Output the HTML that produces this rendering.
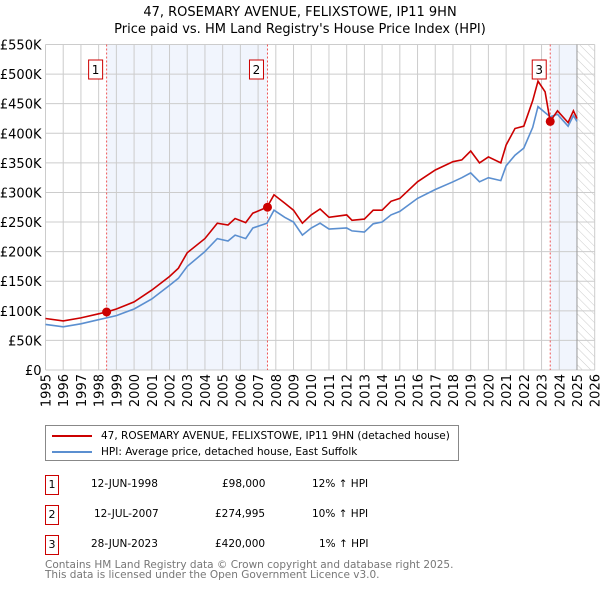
<!DOCTYPE html>
<html><head><meta charset="utf-8"><style>
body{margin:0;background:#fff;font-family:"DejaVu Sans","Liberation Sans",sans-serif;}
#wrap{position:relative;width:600px;height:590px;overflow:hidden}
svg text{font-family:"DejaVu Sans","Liberation Sans",sans-serif}
.t{position:absolute;font-size:10.5px;color:#000;white-space:nowrap;line-height:14px}
.box{position:absolute;border:1px solid #c00;width:14px;height:20px;font-size:11px;text-align:center;line-height:18px;box-sizing:border-box}
</style></head><body><div id="wrap">
<svg id="chart" width="600" height="420" style="position:absolute;left:0;top:0">
<defs><pattern id="hatch" width="6" height="6" patternUnits="userSpaceOnUse" patternTransform="rotate(-45)"><line x1="0" y1="0" x2="0" y2="6" stroke="#ccc" stroke-width="1"/></pattern></defs>
<text x="300" y="16" text-anchor="middle" font-size="13">47, ROSEMARY AVENUE, FELIXSTOWE, IP11 9HN</text>
<text x="300" y="33" text-anchor="middle" font-size="13">Price paid vs. HM Land Registry's House Price Index (HPI)</text>
<g id="g"></g>
</svg>
<div style="position:absolute;left:45px;top:425px;width:414px;height:36px;border:1px solid #888;box-sizing:border-box">
<div style="position:absolute;left:6px;top:9px;width:40px;height:2px;background:#c00"></div>
<div class="t" style="left:55px;top:3px">47, ROSEMARY AVENUE, FELIXSTOWE, IP11 9HN (detached house)</div>
<div style="position:absolute;left:6px;top:25px;width:40px;height:2px;background:#5b8fd0"></div>
<div class="t" style="left:55px;top:19px">HPI: Average price, detached house, East Suffolk</div>
</div>
<div>
<div class="box" style="left:45px;top:475px">1</div>
<div class="t" style="left:91px;top:477px">12-JUN-1998</div><div class="t" style="left:222px;top:477px">£98,000</div><div class="t" style="left:312px;top:477px">12% ↑ HPI</div>
<div class="box" style="left:45px;top:505px">2</div>
<div class="t" style="left:94px;top:507px">12-JUL-2007</div><div class="t" style="left:215px;top:507px">£274,995</div><div class="t" style="left:312px;top:507px">10% ↑ HPI</div>
<div class="box" style="left:45px;top:535px">3</div>
<div class="t" style="left:91px;top:537px">28-JUN-2023</div><div class="t" style="left:215px;top:537px">£420,000</div><div class="t" style="left:319px;top:537px">1% ↑ HPI</div>
</div>
<div class="t" style="left:45px;top:560px;color:#777;font-size:10.5px;line-height:10px">Contains HM Land Registry data © Crown copyright and database right 2025.<br>This data is licensed under the Open Government Licence v3.0.</div>
</div>
<script>
const years=[1995,1996,1997,1998,1998.45,1999,2000,2001,2002,2002.5,2003,2004,2004.7,2005.3,2005.7,2006.3,2006.7,2007.5,2007.9,2008.5,2009,2009.5,2010,2010.5,2011,2012,2012.3,2013,2013.5,2014,2014.5,2015,2016,2017,2018,2018.5,2019,2019.5,2020,2020.7,2021,2021.5,2022,2022.5,2022.8,2023.2,2023.49,2023.9,2024.5,2024.8,2025];
const priceSeries=[87,83,88,95,98,103,115,135,158,172,198,222,248,245,256,249,265,275,296,282,270,248,262,272,258,262,253,255,270,270,285,290,318,338,352,355,370,350,360,350,380,408,412,455,488,470,420,438,418,438,425];
const hpiSeries=[77,73,78,85,88,92,103,120,143,155,175,200,222,218,228,222,240,248,270,258,250,228,240,248,238,240,235,233,247,250,262,268,290,305,318,325,333,318,325,320,345,363,375,410,445,435,428,432,412,430,420];
const sales=[1998.45,2007.53,2023.49];
const saleValues=[98,274.995,420];
const yTicks=[0,50,100,150,200,250,300,350,400,450,500,550];
const yTickLabels=["£0","£50K","£100K","£150K","£200K","£250K","£300K","£350K","£400K","£450K","£500K","£550K"];
const xTicks=[1995,1996,1997,1998,1999,2000,2001,2002,2003,2004,2005,2006,2007,2008,2009,2010,2011,2012,2013,2014,2015,2016,2017,2018,2019,2020,2021,2022,2023,2024,2025,2026];
const L=45.5,R=594.7,T=44.5,B=370;
const X=y=>L+(y-1995)/(2026-1995)*(R-L);
const Y=v=>B-v/550*(B-T);
const g=document.getElementById('g');const NS='http://www.w3.org/2000/svg';
function el(t,a,name){const e=document.createElementNS(NS,t);for(const k in a)e.setAttribute(k,a[k]);


g.appendChild(e);return e;}
el('rect',{x:X(sales[0]),y:T,width:X(sales[1])-X(sales[0]),height:B-T,fill:'#eef3fc',opacity:0.8},'shade-1-2');
el('rect',{x:X(sales[2]),y:T,width:X(2025)-X(sales[2]),height:B-T,fill:'#eef3fc',opacity:0.8},'shade-3');
el('rect',{x:X(2025),y:T,width:R-X(2025),height:B-T,fill:'url(#hatch)'},'future-hatch');
yTicks.forEach((v,i)=>{el('line',{x1:L,x2:R,y1:Y(v),y2:Y(v),stroke:'#ccc'},'y-grid');
const t=el('text',{x:L-4,y:Y(v)+5,'text-anchor':'end','font-size':13},'y-tick-label');t.textContent=yTickLabels[i];});
xTicks.forEach(y=>{el('line',{x1:X(y),x2:X(y),y1:T,y2:B,stroke:'#ccc'},'x-grid');
const t=el('text',{transform:`translate(${X(y)+5},${B+4}) rotate(-90)`,'text-anchor':'end','font-size':13},'x-tick-label');t.textContent=y;});
el('line',{x1:X(2025),x2:X(2025),y1:T,y2:B,stroke:'#999'},'today-line');
sales.forEach((s,i)=>{el('line',{x1:X(s),x2:X(s),y1:T,y2:B,stroke:'#e55','stroke-dasharray':'2,2'},'sale-marker-line');});
const pts=a=>a.map((v,i)=>X(years[i]).toFixed(1)+','+Y(v).toFixed(1)).join(' ');
el('polyline',{points:pts(hpiSeries),fill:'none',stroke:'#5b8fd0','stroke-width':1.6},'hpi-line');
el('polyline',{points:pts(priceSeries),fill:'none',stroke:'#c00','stroke-width':1.6},'price-line');
sales.forEach((s,i)=>{el('circle',{cx:X(s),cy:Y(saleValues[i]),r:4.5,fill:'#c00'},'sale-point');
el('rect',{x:X(s)-18,y:60,width:14,height:19,fill:'#fff',stroke:'#c00'},'sale-badge');
const t=el('text',{x:X(s)-11,y:74,'text-anchor':'middle','font-size':12},'sale-badge-label');t.textContent=i+1;});
</script>
</body></html>
